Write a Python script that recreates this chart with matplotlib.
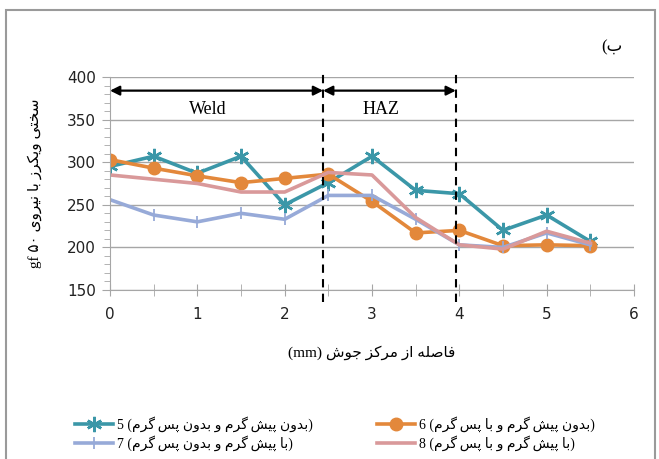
import matplotlib
matplotlib.use("Agg")
import matplotlib.pyplot as plt
from matplotlib.patches import Rectangle
from matplotlib.ticker import MultipleLocator

# data
x = [0, 0.5, 1, 1.5, 2, 2.5, 3, 3.5, 4, 4.5, 5, 5.5]
s5 = [295, 307, 287, 307, 250, 276, 307, 267, 263, 220, 238, 207]
s6 = [303, 293, 284, 276, 281, 286, 254, 217, 220, 202, 203, 202]
s7 = [256, 238, 230, 240, 233, 261, 261, 233, 203, 200, 217, 203]
s8 = [285, 280, 275, 265, 265, 288, 285, 235, 203, 198, 219, 205]
zone_edges = [0, 2.44, 3.96]
zone_names = ["Weld", "HAZ"]

# minimal persian shaping (matplotlib has no complex text layout)
FORMS = {
    'ا': (0xFE8D, 0xFE8E, None, None), 'ب': (0xFE8F, 0xFE90, 0xFE91, 0xFE92),
    'پ': (0xFB56, 0xFB57, 0xFB58, 0xFB59), 'ت': (0xFE95, 0xFE96, 0xFE97, 0xFE98),
    'ج': (0xFE9D, 0xFE9E, 0xFE9F, 0xFEA0), 'خ': (0xFEA5, 0xFEA6, 0xFEA7, 0xFEA8),
    'د': (0xFEA9, 0xFEAA, None, None), 'ر': (0xFEAD, 0xFEAE, None, None),
    'ز': (0xFEAF, 0xFEB0, None, None), 'س': (0xFEB1, 0xFEB2, 0xFEB3, 0xFEB4),
    'ش': (0xFEB5, 0xFEB6, 0xFEB7, 0xFEB8), 'ص': (0xFEB9, 0xFEBA, 0xFEBB, 0xFEBC),
    'ف': (0xFED1, 0xFED2, 0xFED3, 0xFED4), 'ک': (0xFB8E, 0xFB8F, 0xFB90, 0xFB91),
    'گ': (0xFB92, 0xFB93, 0xFB94, 0xFB95), 'ل': (0xFEDD, 0xFEDE, 0xFEDF, 0xFEE0),
    'م': (0xFEE1, 0xFEE2, 0xFEE3, 0xFEE4), 'ن': (0xFEE5, 0xFEE6, 0xFEE7, 0xFEE8),
    'ه': (0xFEE9, 0xFEEA, 0xFEEB, 0xFEEC), 'و': (0xFEED, 0xFEEE, None, None),
    'ی': (0xFBFC, 0xFBFD, 0xFBFE, 0xFBFF),
}


def fa(text):
    out = []
    for i, c in enumerate(text):
        if c == '\u200c':
            out.append('\u2009')  # zwnj: break the join, leave a small gap
            continue
        if c not in FORMS:
            out.append({'(': ')', ')': '('}.get(c, c))
            continue
        p = text[i - 1] if i > 0 else ''
        n = text[i + 1] if i + 1 < len(text) else ''
        jp = p in FORMS and FORMS[p][2] is not None
        jn = FORMS[c][2] is not None and n in FORMS
        iso, fin, ini, med = FORMS[c]
        code = med if (jp and jn) else fin if jp else ini if jn else iso
        out.append(chr(code))
    return ''.join(out[::-1])


labels = [
    "5 (" + fa("بدون پیش\u200cگرم و بدون پس\u200cگرم") + ")",
    "6 (" + fa("بدون پیش\u200cگرم و با پس\u200cگرم") + ")",
    "7 (" + fa("با پیش\u200cگرم و بدون پس\u200cگرم") + ")",
    "8 (" + fa("با پیش\u200cگرم و با پس\u200cگرم") + ")",
]
ylab = "gf \u06f5\u06f0 " + fa("سختی ویکرز با نیروی")
xlab = "(mm) " + fa("فاصله از مرکز جوش")
tag = "(" + fa("ب")

mixed = ['Liberation Serif', 'DejaVu Sans']
grey = '#a6a6a6'

fig = plt.figure(figsize=(6.59, 4.59), dpi=100)
fig.patches.append(Rectangle((6 / 659, -0.05), 649 / 659, 1.05 - 10 / 459,
                             transform=fig.transFigure, fill=False,
                             edgecolor='#9a9a9a', lw=1.5))
ax = fig.add_axes([110 / 659, 1 - 290 / 459, 524 / 659, 213 / 459])

l5, = ax.plot(x, s5, color='#3b97a8', lw=2.6, marker=(6, 2, 0), ms=11, mew=1.8)
l6, = ax.plot(x, s6, color='#e3883b', lw=2.6, marker='o', ms=9)
l7, = ax.plot(x, s7, color='#97aad8', lw=2.6, marker='|', ms=9, mew=1.3)
l8, = ax.plot(x, s8, color='#d9999a', lw=2.6)

ax.set_xlim(0, 6)
ax.set_ylim(150, 400)
ax.xaxis.set_major_locator(MultipleLocator(1))
ax.xaxis.set_minor_locator(MultipleLocator(0.5))
ax.yaxis.set_major_locator(MultipleLocator(50))
ax.yaxis.set_minor_locator(MultipleLocator(10))
ax.grid(axis='y', which='major', color=grey, lw=1)
for s in ['top', 'right']:
    ax.spines[s].set_visible(False)
for s in ['left', 'bottom']:
    ax.spines[s].set_color(grey)
ax.tick_params(axis='x', which='both', direction='inout', length=8, color=grey,
               pad=8, labelsize=11, labelcolor='#222222')
ax.tick_params(axis='y', which='major', direction='out', length=6, color=grey,
               pad=4, labelsize=11, labelcolor='#222222')
ax.tick_params(axis='y', which='minor', direction='out', length=4, color=grey)
ax.tick_params(axis='x', which='minor', labelbottom=False)

# zone boundaries and arrows
for xe in zone_edges[1:]:
    ax.plot([xe, xe], [136, 405], color='k', lw=1.5, ls=(0, (4, 3)), clip_on=False, zorder=5)
for a, b, name in zip(zone_edges[:-1], zone_edges[1:], zone_names):
    ax.annotate('', xy=(b, 384), xytext=(a, 384),
                arrowprops=dict(arrowstyle='<|-|>', color='k', lw=1.6,
                                mutation_scale=14, shrinkA=0, shrinkB=0))
    ax.text((a + b) / 2 - 0.1, 362, name, ha='center', va='center',
            family='Liberation Serif', fontsize=13)

fig.text(35 / 659, 1 - 183 / 459, ylab, rotation=90, ha='center', va='center',
         family=mixed, fontsize=11)
fig.text(372 / 659, 1 - 353 / 459, xlab, ha='center', va='center',
         family=mixed, fontsize=11)
fig.text(612 / 659, 1 - 47 / 459, tag, ha='center', va='center',
         family=mixed, fontsize=12)

leg_kw = dict(loc='upper left', frameon=False, borderpad=0, borderaxespad=0,
              handlelength=2.7, labelspacing=0.25, handletextpad=0.3,
              prop={'family': mixed, 'size': 10})
fig.legend([l5, l7], [labels[0], labels[2]], bbox_to_anchor=(75 / 659, 1 - 416 / 459), **leg_kw)
fig.legend([l6, l8], [labels[1], labels[3]], bbox_to_anchor=(377 / 659, 1 - 416 / 459), **leg_kw)

fig.savefig('out.png', dpi=100)
